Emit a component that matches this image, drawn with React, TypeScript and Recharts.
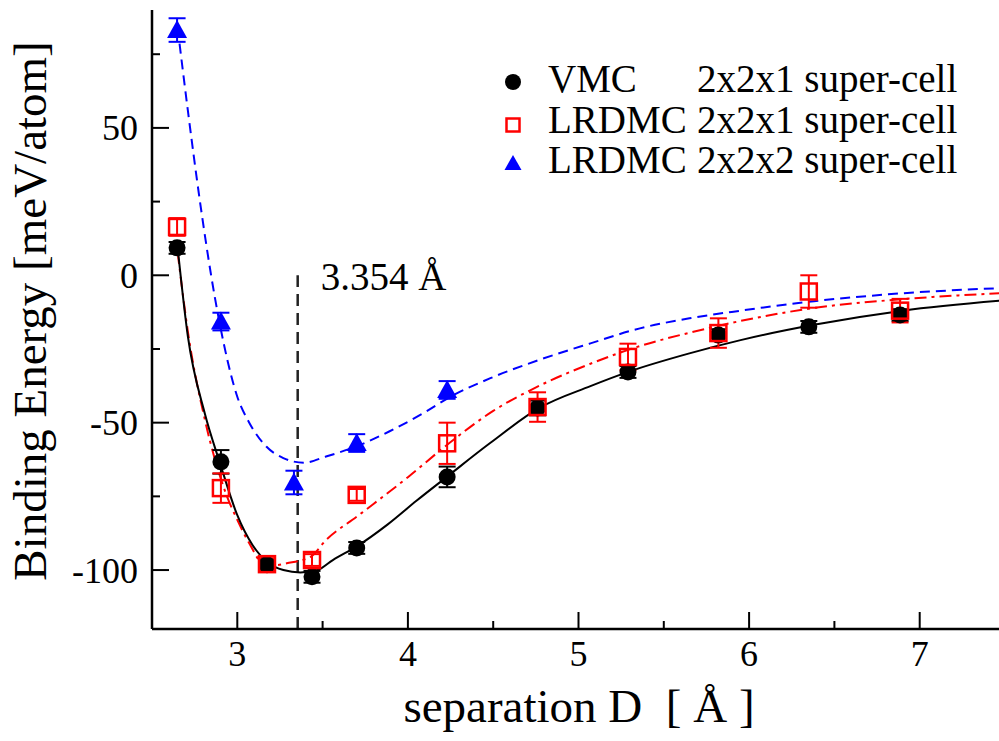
import {
  ComposedChart,
  Line,
  Scatter,
  ErrorBar,
  XAxis,
  YAxis,
  ReferenceLine,
  Legend,
  Label,
} from "recharts";

// separations (Å) of the computed configurations
const separations = [2.647, 2.904, 3.174, 3.438, 3.7, 4.23, 4.76, 5.29, 5.82, 6.35, 6.885];

// VMC, 2x2x1 super-cell
const vmcEnergy = [9.3, -63.3, -98.2, -102.3, -92.5, -68.4, -45, -32.8, -20.3, -17.5, -13.5];
const vmcError = [2, 4, 2, 2, 2, 3.5, 2.5, 2, 2, 2, 2];

// LRDMC, 2x2x1 super-cell
const lrdmc1Energy = [16.4, -72.2, -98, -96.6, -74.5, -57, -44.7, -27.7, -19.6, -5.5, -12];
const lrdmc1Error = [3, 5, 2, 2, 2, 7, 5, 4.5, 5, 5.5, 4];

// LRDMC, 2x2x2 super-cell
const lrdmc2Separations = [2.647, 2.904, 3.332, 3.7, 4.23];
const lrdmc2Energy = [83.2, -15.7, -70.3, -56.9, -38.9];
const lrdmc2Error = [4, 3, 4, 3, 3];

// fitted binding curves
const vmcFitD = [2.65, 2.71, 2.81, 2.9, 3.0, 3.09, 3.18, 3.27, 3.37, 3.47, 3.56, 3.7, 3.88, 4.05, 4.23, 4.48, 4.77, 5.07, 5.3, 5.65, 5.95, 6.38, 6.9, 7.5];
const vmcFitE = [9.5, -20.6, -47, -64, -81.4, -91.6, -97.5, -100, -100.8, -100, -96.6, -92, -84.6, -76.5, -68.3, -57, -45, -37.6, -32.6, -26.5, -22, -16.8, -12, -8.5];

const lrdmc1FitD = [2.65, 2.71, 2.81, 2.93, 3.0, 3.07, 3.15, 3.23, 3.29, 3.43, 3.52, 3.7, 3.8, 4.0, 4.23, 4.5, 4.77, 5.07, 5.36, 5.65, 5.95, 6.38, 6.9, 7.5];
const lrdmc1FitE = [8, -19, -49, -73.5, -83, -90.9, -97.7, -98.3, -97.7, -95.5, -89.8, -81.9, -77.5, -68.5, -57.5, -46, -37.5, -30, -24, -19.5, -15.5, -11.1, -8.1, -6];

const lrdmc2FitD = [2.65, 2.71, 2.78, 2.87, 2.92, 3.0, 3.07, 3.17, 3.27, 3.39, 3.52, 3.7, 3.89, 4.09, 4.25, 4.48, 4.77, 5.07, 5.36, 5.65, 5.95, 6.38, 6.9, 7.5];
const lrdmc2FitE = [84, 56, 25.5, -8, -23, -41.2, -50, -58.1, -62, -63.6, -61.5, -58, -53, -46.8, -41.2, -35, -28.7, -23.1, -18, -14.6, -12, -8.8, -6.1, -4.3];

const xTicks = [3, 3.5, 4, 4.5, 5, 5.5, 6, 6.5, 7];
const yTicks = [-100, -75, -50, -25, 0, 25, 50, 75];

const equilibrium = 3.354;

const toPoints = (d: number[], e: number[], err?: number[]) =>
  d.map((x, i) => (err ? { d: x, e: e[i], err: err[i] } : { d: x, e: e[i] }));

const vmcPoints = toPoints(separations, vmcEnergy, vmcError);
const lrdmc1Points = toPoints(separations, lrdmc1Energy, lrdmc1Error);
const lrdmc2Points = toPoints(lrdmc2Separations, lrdmc2Energy, lrdmc2Error);
const vmcFit = toPoints(vmcFitD, vmcFitE);
const lrdmc1Fit = toPoints(lrdmc1FitD, lrdmc1FitE);
const lrdmc2Fit = toPoints(lrdmc2FitD, lrdmc2FitE);

const FONT = "Liberation Serif, Times New Roman, serif";
const RED = "#ff0000";
const BLUE = "#0000ff";

const MAJOR = 17;
const MINOR = 8;

const textStyle = { fontFamily: FONT };

// ticks point into the frame, labels sit outside
const BottomTick = ({ x, y, payload }: any) => {
  const major = Number.isInteger(payload.value);
  return (
    <g>
      <line x1={x} x2={x} y1={y} y2={y - (major ? MAJOR : MINOR)} stroke="#000" strokeWidth={2} />
      {major && (
        <text x={x} y={y + 37} textAnchor="middle" fontSize={36} style={textStyle} fill="#000">
          {payload.value}
        </text>
      )}
    </g>
  );
};

const TopTick = ({ x, y, payload }: any) => {
  const major = Number.isInteger(payload.value);
  return <line x1={x} x2={x} y1={y} y2={y + (major ? MAJOR : MINOR)} stroke="#000" strokeWidth={2} />;
};

const LeftTick = ({ x, y, payload }: any) => {
  const major = payload.value % 50 === 0;
  return (
    <g>
      <line x1={x} x2={x + (major ? MAJOR : MINOR)} y1={y} y2={y} stroke="#000" strokeWidth={2} />
      {major && (
        <text x={x - 14} y={y + 12.5} textAnchor="end" fontSize={36} style={textStyle} fill="#000">
          {payload.value}
        </text>
      )}
    </g>
  );
};

const RightTick = ({ x, y, payload }: any) => {
  const major = payload.value % 50 === 0;
  return <line x1={x} x2={x - (major ? MAJOR : MINOR)} y1={y} y2={y} stroke="#000" strokeWidth={2} />;
};

const VmcMark = ({ cx, cy }: any) => <circle cx={cx} cy={cy} r={8.5} fill="#000" />;

const Lrdmc1Mark = ({ cx, cy }: any) => (
  <rect x={cx - 8} y={cy - 8} width={16} height={16} fill="none" stroke={RED} strokeWidth={2.5} />
);

const Lrdmc2Mark = ({ cx, cy }: any) => (
  <polygon points={`${cx},${cy - 10} ${cx - 10},${cy + 8} ${cx + 10},${cy + 8}`} fill={BLUE} />
);

const legendRows = [
  {
    name: "VMC",
    cell: "2x2x1 super-cell",
    mark: <circle cx={13} cy={23} r={8} fill="#000" />,
  },
  {
    name: "LRDMC",
    cell: "2x2x1 super-cell",
    mark: <rect x={6.5} y={18.5} width={13} height={13} fill="none" stroke={RED} strokeWidth={2.5} />,
  },
  {
    name: "LRDMC",
    cell: "2x2x2 super-cell",
    mark: <polygon points="13,15 4.5,30 21.5,30" fill={BLUE} />,
  },
];

const renderLegend = () => (
  <div style={{ fontFamily: FONT, fontSize: 39, color: "#000" }}>
    {legendRows.map((row, i) => (
      <div
        key={i}
        style={{ display: "flex", alignItems: "center", height: 40.5, lineHeight: "40.5px", whiteSpace: "pre", fontFamily: FONT }}
      >
        <svg width={48} height={40} style={{ flex: "none" }}>
          {row.mark}
        </svg>
        <span style={{ display: "inline-block", width: 149 }}>{row.name}</span>
        <span>{row.cell}</span>
      </div>
    ))}
  </div>
);

const renderEquilibriumLabel = (props: any) => {
  const vb = props.viewBox || {};
  return (
    <text x={(vb.x ?? 297) + 23} y={(vb.y ?? 275) + 15} fontSize={39} style={textStyle} fill="#000">
      3.354 Å
    </text>
  );
};

const renderYTitle = () => (
  <text
    x={46}
    y={311}
    transform="rotate(-90 46 311)"
    textAnchor="middle"
    fontSize={47}
    style={textStyle}
    fill="#000"
  >
    Binding Energy [meV/atom]
  </text>
);

const renderXTitle = () => (
  <text x={579} y={722} textAnchor="middle" fontSize={47} style={{ ...textStyle, whiteSpace: "pre" }} fill="#000">
    {"separation D  [ Å ]"}
  </text>
);

const axisLine = { stroke: "#000", strokeWidth: 2.5 };

export default function App() {
  return (
    <div
      style={{
        position: "absolute",
        left: 0,
        top: 0,
        width: 999,
        height: 741,
        overflow: "hidden",
        background: "#fff",
        fontFamily: FONT,
      }}
    >
      <ComposedChart width={1010} height={741} margin={{ top: 10, right: 5, bottom: 0, left: 0 }}>
        <XAxis
          xAxisId="bottom"
          dataKey="d"
          type="number"
          domain={[2.5, 7.5]}
          ticks={xTicks}
          interval={0}
          allowDataOverflow
          height={112}
          tickSize={0}
          tickMargin={0}
          tick={<BottomTick />}
          tickLine={false}
          axisLine={axisLine}
        >
          <Label content={renderXTitle} />
        </XAxis>
        <XAxis
          xAxisId="top"
          orientation="top"
          dataKey="d"
          type="number"
          domain={[2.5, 7.5]}
          ticks={xTicks}
          interval={0}
          allowDataOverflow
          height={0}
          tickSize={0}
          tickMargin={0}
          tick={<TopTick />}
          tickLine={false}
          axisLine={axisLine}
        />
        <YAxis
          yAxisId="left"
          dataKey="e"
          type="number"
          domain={[-120, 90]}
          ticks={yTicks}
          interval={0}
          allowDataOverflow
          width={152}
          tickSize={0}
          tickMargin={0}
          tick={<LeftTick />}
          tickLine={false}
          axisLine={axisLine}
        >
          <Label content={renderYTitle} />
        </YAxis>
        <YAxis
          yAxisId="right"
          orientation="right"
          type="number"
          domain={[-120, 90]}
          ticks={yTicks}
          interval={0}
          allowDataOverflow
          width={0}
          tickSize={0}
          tickMargin={0}
          tick={<RightTick />}
          tickLine={false}
          axisLine={axisLine}
        />

        <ReferenceLine
          xAxisId="bottom"
          yAxisId="left"
          segment={[
            { x: equilibrium, y: -120 },
            { x: equilibrium, y: 0 },
          ]}
          stroke="#222"
          strokeWidth={2.5}
          strokeDasharray="12 7"
          label={renderEquilibriumLabel}
        />

        <Line
          xAxisId="bottom"
          yAxisId="left"
          data={lrdmc2Fit}
          dataKey="e"
          type="monotone"
          stroke={BLUE}
          strokeWidth={2}
          strokeDasharray="10 6"
          dot={false}
          isAnimationActive={false}
          legendType="none"
        />
        <Line
          xAxisId="bottom"
          yAxisId="left"
          data={lrdmc1Fit}
          dataKey="e"
          type="monotone"
          stroke={RED}
          strokeWidth={2}
          strokeDasharray="12 5 3 5"
          dot={false}
          isAnimationActive={false}
          legendType="none"
        />
        <Line
          xAxisId="bottom"
          yAxisId="left"
          data={vmcFit}
          dataKey="e"
          type="monotone"
          stroke="#000"
          strokeWidth={2}
          dot={false}
          isAnimationActive={false}
          legendType="none"
        />

        <Scatter
          xAxisId="bottom"
          yAxisId="left"
          name="VMC 2x2x1 super-cell"
          data={vmcPoints}
          dataKey="e"
          shape={VmcMark}
          isAnimationActive={false}
        >
          <ErrorBar dataKey="err" direction="y" width={8.5} stroke="#000" strokeWidth={2} isAnimationActive={false} />
        </Scatter>
        <Scatter
          xAxisId="bottom"
          yAxisId="left"
          name="LRDMC 2x2x1 super-cell"
          data={lrdmc1Points}
          dataKey="e"
          shape={Lrdmc1Mark}
          isAnimationActive={false}
        >
          <ErrorBar dataKey="err" direction="y" width={8.5} stroke={RED} strokeWidth={2} isAnimationActive={false} />
        </Scatter>
        <Scatter
          xAxisId="bottom"
          yAxisId="left"
          name="LRDMC 2x2x2 super-cell"
          data={lrdmc2Points}
          dataKey="e"
          shape={Lrdmc2Mark}
          isAnimationActive={false}
        >
          <ErrorBar dataKey="err" direction="y" width={8.5} stroke={BLUE} strokeWidth={2} isAnimationActive={false} />
        </Scatter>

        <Legend
          layout="vertical"
          align="center"
          verticalAlign="middle"
          content={renderLegend}
          wrapperStyle={{ top: 59, left: 500, width: "auto" }}
        />
      </ComposedChart>
    </div>
  );
}
